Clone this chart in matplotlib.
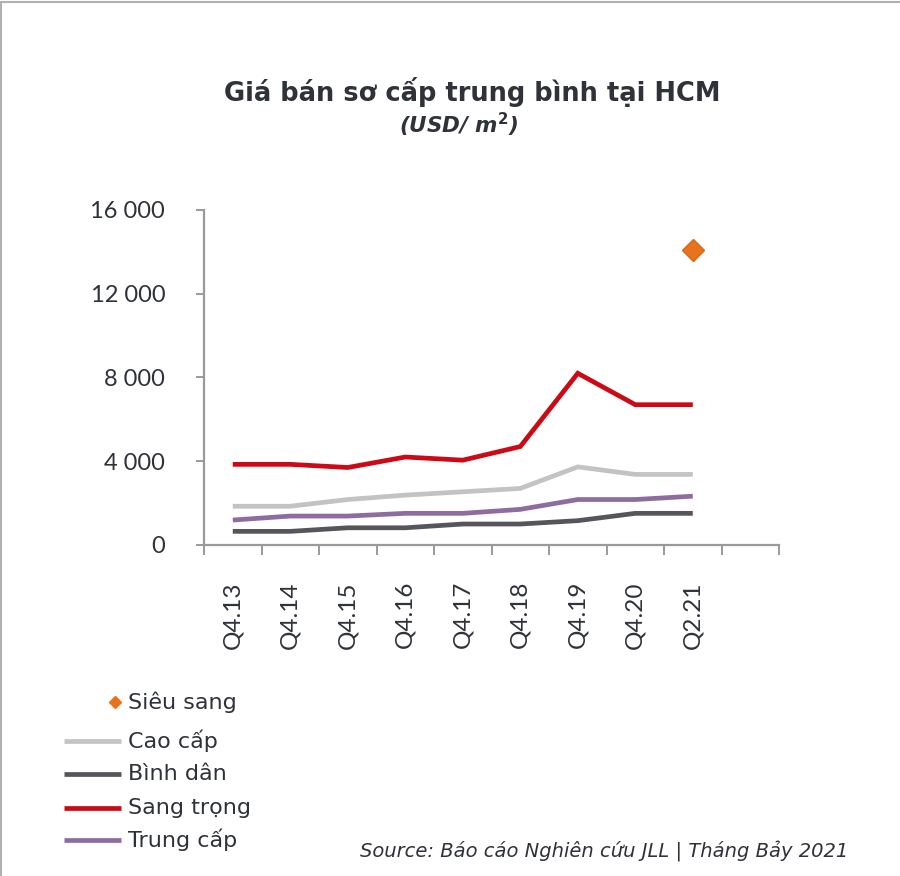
import matplotlib

matplotlib.use("Agg")

import matplotlib.pyplot as plt  # noqa: E402
from matplotlib.lines import Line2D  # noqa: E402
from matplotlib.patches import Rectangle  # noqa: E402

# ---------------------------------------------------------------------------
# Data (USD / m2)
# ---------------------------------------------------------------------------
periods = ["Q4.13", "Q4.14", "Q4.15", "Q4.16", "Q4.17",
           "Q4.18", "Q4.19", "Q4.20", "Q2.21"]

sang_trong = [3850, 3850, 3700, 4200, 4050, 4700, 8200, 6700, 6700]
cao_cap = [1850, 1850, 2170, 2380, 2540, 2700, 3730, 3370, 3370]
trung_cap = [1190, 1380, 1380, 1510, 1510, 1700, 2170, 2170, 2330]
binh_dan = [650, 650, 820, 820, 1000, 1000, 1160, 1510, 1510]
sieu_sang = [None, None, None, None, None, None, None, None, 14100]

y_ticks = [0, 4000, 8000, 12000, 16000]
y_tick_labels = ["0", "4 000", "8 000", "12 000", "16 000"]

TEXT_DARK = "#2f3238"
AXIS_GREY = "#9a9a9a"
COLORS = {
    "Siêu sang": "#e8731c",
    "Cao cấp": "#c3c3c3",
    "Bình dân": "#56565a",
    "Sang trọng": "#cc0a16",
    "Trung cấp": "#8e6ca0",
}

# ---------------------------------------------------------------------------
# Figure
# ---------------------------------------------------------------------------
fig = plt.figure(figsize=(9.0, 8.76), dpi=100)
ax = fig.add_axes([0.2267, 0.3779, 0.6389, 0.3824])

x = list(range(len(periods)))
line_series = [
    ("Cao cấp", cao_cap),
    ("Trung cấp", trung_cap),
    ("Bình dân", binh_dan),
    ("Sang trọng", sang_trong),
]
for name, values in line_series:
    ax.plot(x, values, color=COLORS[name], linewidth=3.4,
            solid_capstyle="butt", solid_joinstyle="miter", zorder=3)

ss_x = [i for i, v in enumerate(sieu_sang) if v is not None]
ss_y = [v for v in sieu_sang if v is not None]
ax.plot(ss_x, ss_y, linestyle="none", marker="D", markersize=11,
        color=COLORS["Siêu sang"], markeredgecolor="#d9661a", zorder=4)

# axes / spines
ax.set_xlim(-0.5, len(periods) + 0.5)
ax.set_ylim(0, 16000)
for side in ("top", "right"):
    ax.spines[side].set_visible(False)
for side in ("left", "bottom"):
    ax.spines[side].set_color(AXIS_GREY)
    ax.spines[side].set_linewidth(1.6)

ax.set_yticks(y_ticks)
ax.set_yticklabels(y_tick_labels, fontfamily="Lato", fontsize=17,
                   color=TEXT_DARK)
ax.tick_params(axis="y", length=6, width=1.4, color=AXIS_GREY, pad=22)

# category labels at slot centres, tick marks at slot boundaries
ax.set_xticks([i - 0.5 for i in range(len(periods) + 2)])
ax.set_xticklabels([])
ax.tick_params(axis="x", which="major", length=7, width=1.4,
               color=AXIS_GREY)
ax.set_xticks(x, minor=True)
ax.set_xticklabels(periods, minor=True, rotation=90, fontfamily="Lato",
                   fontsize=17.5, color=TEXT_DARK, va="top")
ax.tick_params(axis="x", which="minor", length=0, pad=26)

# ---------------------------------------------------------------------------
# Titles
# ---------------------------------------------------------------------------
fig.text(0.525, 0.895, "Giá bán sơ cấp trung bình tại HCM",
         ha="center", va="center", fontsize=18.5, fontweight="bold",
         fontfamily="DejaVu Sans", color=TEXT_DARK)
fig.text(0.51, 0.857, r"(USD/ m$^\mathbf{2}$)", ha="center", va="center",
         fontsize=15.5, fontweight="bold", fontstyle="italic",
         fontfamily="DejaVu Sans", color=TEXT_DARK)

# ---------------------------------------------------------------------------
# Legend (drawn by hand so the rows match the original spacing)
# ---------------------------------------------------------------------------
legend_rows = [
    ("Siêu sang", 702),
    ("Cao cấp", 741),
    ("Bình dân", 774),
    ("Sang trọng", 808),
    ("Trung cấp", 840),
]
W, H = 900.0, 876.0
for name, ypix in legend_rows:
    yf = 1 - ypix / H
    if name == "Siêu sang":
        fig.add_artist(Line2D([115 / W], [yf], marker="D", markersize=6,
                              color=COLORS[name], linestyle="none"))
    else:
        fig.add_artist(Line2D([64 / W, 121 / W], [yf, yf], linewidth=3.4,
                              color=COLORS[name], solid_capstyle="butt"))
    fig.text(128 / W, yf, name, ha="left", va="center", fontsize=16,
             fontfamily="DejaVu Sans", color=TEXT_DARK)

fig.text(848 / W, 1 - 852 / H,
         "Source: Báo cáo Nghiên cứu JLL | Tháng Bảy 2021",
         ha="right", va="center", fontsize=14, fontstyle="italic",
         fontfamily="DejaVu Sans", color=TEXT_DARK)

# thin frame on the top and left edges like the screenshot
fig.add_artist(Rectangle((0.001, -0.01), 1.2, 1.008,
                         transform=fig.transFigure, fill=False,
                         edgecolor="#b0b0b0", linewidth=1.5))

fig.savefig("out.png", dpi=100)
plt.close(fig)
